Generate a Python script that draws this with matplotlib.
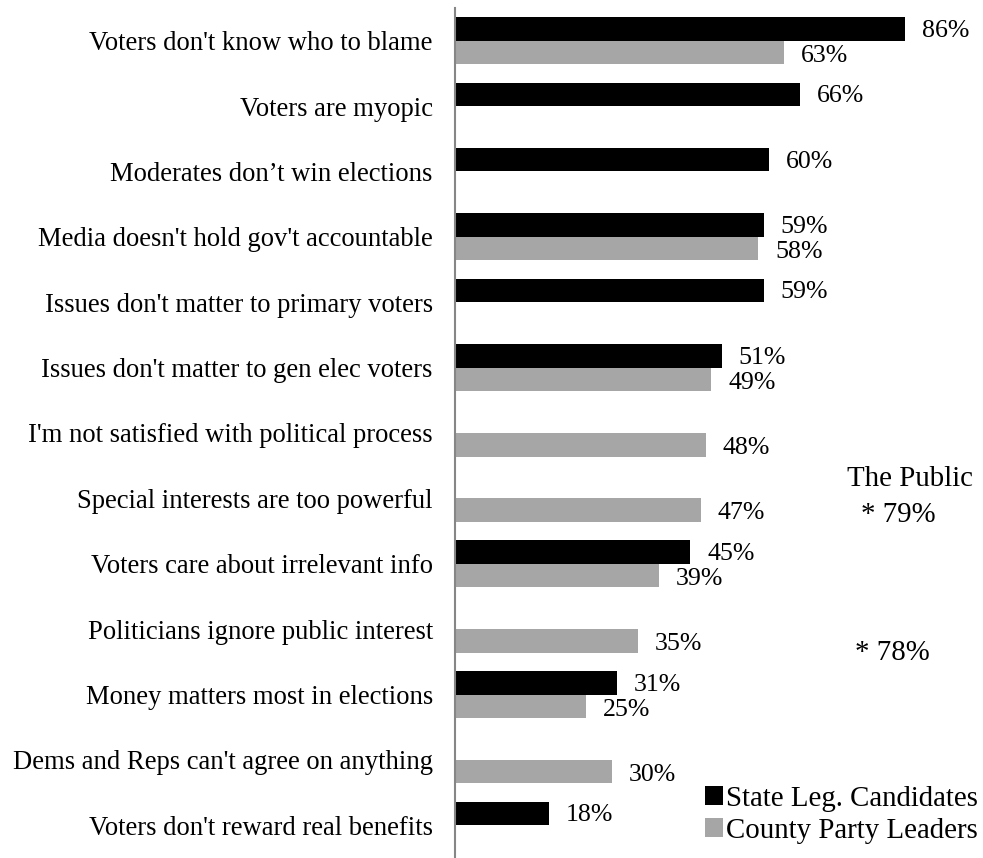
import numpy as np
import matplotlib
matplotlib.use("Agg")
import matplotlib.pyplot as plt

plt.rcParams['font.family'] = ['Liberation Serif', 'DejaVu Serif']

categories = [
    "Voters don't know who to blame",
    "Voters are myopic",
    "Moderates don\u2019t win elections",
    "Media doesn't hold gov't accountable",
    "Issues don't matter to primary voters",
    "Issues don't matter to gen elec voters",
    "I'm not satisfied with political process",
    "Special interests are too powerful",
    "Voters care about irrelevant info",
    "Politicians ignore public interest",
    "Money matters most in elections",
    "Dems and Reps can't agree on anything",
    "Voters don't reward real benefits",
]
state_leg = [86, 66, 60, 59, 59, 51, np.nan, np.nan, 45, np.nan, 31, np.nan, 18]
county = [63, np.nan, np.nan, 58, np.nan, 49, 48, 47, 39, 35, 25, 30, np.nan]
public_notes = [("The Public", 7, -0.3), ("* 79%", 7, 0.25), ("* 78%", 9, 0.36)]
public_x = [87, 84.8, 83.6]

fig = plt.figure(figsize=(9.83, 8.58), dpi=100)
ax = fig.add_axes([455/983, 0.0, 523/983, 850/858])

y = np.arange(len(categories))
h = 0.36
black = "#000000"
grey = "#A6A6A6"
ax.barh(y - h/2, state_leg, height=h, color=black, label="State Leg. Candidates")
ax.barh(y + h/2, county, height=h, color=grey, label="County Party Leaders")

fs = 19.2
fs_val = 18.6
fs_big = 20.8
for yi, v in zip(y, state_leg):
    if not np.isnan(v):
        ax.text(v + 3.2, yi - h/2 + 0.03, f"{v:.0f}%", va="center", ha="left", fontsize=fs_val)
for yi, v in zip(y, county):
    if not np.isnan(v):
        ax.text(v + 3.2, yi + h/2 + 0.05, f"{v:.0f}%", va="center", ha="left", fontsize=fs_val)

for (txt, row, off), xx in zip(public_notes, public_x):
    ax.text(xx, row + off, txt, ha="center", va="center", fontsize=fs_big)

ax.set_xlim(0, 100)
ax.set_ylim(len(categories) - 0.5, -0.5)
ax.set_yticks(y)
ax.set_yticklabels(categories, fontsize=fs)
ax.tick_params(axis="y", length=0, pad=16)
ax.set_xticks([])
for s in ["top", "right", "bottom"]:
    ax.spines[s].set_visible(False)
ax.spines["left"].set_color("#868686")
ax.spines["left"].set_linewidth(1.5)

leg = fig.legend(loc="lower right", bbox_to_anchor=(978/983, 14/858), frameon=False,
                 fontsize=fs_big, handlelength=0.62, handleheight=0.62,
                 handletextpad=0.1, labelspacing=0.22, borderaxespad=0.0, borderpad=0.0)

fig.savefig("out.png", dpi=100)
